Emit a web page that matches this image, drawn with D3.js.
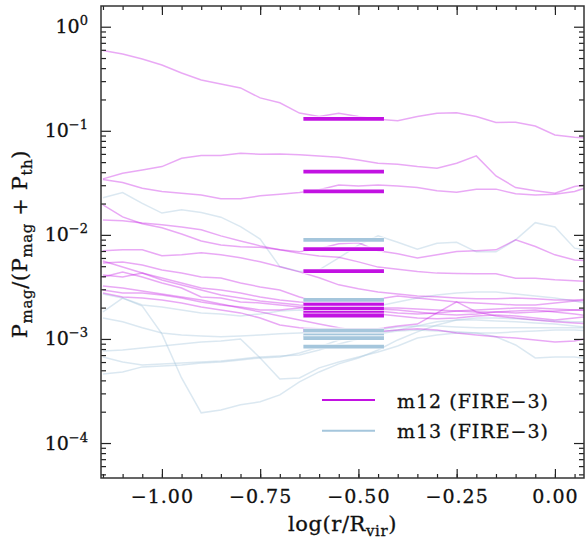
<!DOCTYPE html>
<html>
<head>
<meta charset="utf-8">
<script src="https://d3js.org/d3.v7.min.js"></script>
<style>
  body { margin: 0; background: #fff; }
  svg { display: block; font-family: "DejaVu Serif", serif; }
  .lbl { fill: #111; stroke: #111; stroke-width: 0.3px; }
</style>
</head>
<body>
<svg id="chart" width="585" height="540"></svg>
<script>
// radial bins, log(r/Rvir)
var radius = [-1.15, -1.10, -1.05, -1.00, -0.95, -0.90, -0.85, -0.80, -0.75, -0.70, -0.65, -0.60, -0.55,
              -0.50, -0.45, -0.40, -0.35, -0.30, -0.25, -0.20, -0.15, -0.10, -0.05, 0.00, 0.05, 0.10];

// m12 halos: Pmag/(Pmag+Pth) profiles
var m12_a = [0.59, 0.547, 0.49, 0.429, 0.359, 0.308, 0.282, 0.258, 0.207, 0.186, 0.148, 0.137, 0.1475, 0.137, 0.129, 0.125, 0.137, 0.1475, 0.149, 0.137, 0.120, 0.121, 0.111, 0.0913, 0.0867, 0.085];
var m12_b = [0.0345, 0.0391, 0.0421, 0.0453, 0.0545, 0.058, 0.0579, 0.0609, 0.0595, 0.060, 0.0587, 0.0574, 0.0557, 0.0525, 0.0488, 0.0477, 0.0453, 0.0437, 0.0488, 0.0574, 0.0368, 0.0285, 0.0266, 0.0251, 0.0291, 0.0313];
var m12_c = [0.0341, 0.0318, 0.0281, 0.0261, 0.0251, 0.0242, 0.0222, 0.0222, 0.0237, 0.0246, 0.0255, 0.0271, 0.0302, 0.0295, 0.0302, 0.0295, 0.0285, 0.0266, 0.0257, 0.0275, 0.0275, 0.0248, 0.0242, 0.0246, 0.0261, 0.0302];
var m12_d = [0.0194, 0.0149, 0.0128, 0.0117, 0.0102, 0.00875, 0.0080, 0.00767, 0.0076, 0.00718, 0.00664, 0.00628, 0.0061, 0.0055, 0.0049, 0.00467, 0.00444, 0.00429, 0.00425, 0.00422, 0.00422, 0.00384, 0.00384, 0.0037, 0.00362, 0.00355];
var m12_e = [0.0139, 0.0137, 0.0130, 0.0125, 0.0119, 0.0112, 0.00978, 0.00875, 0.00784, 0.00718, 0.00687, 0.00734, 0.0082, 0.00838, 0.00702, 0.00657, 0.0060, 0.00643, 0.00691, 0.00702, 0.00718, 0.00895, 0.00772, 0.00643, 0.00575, 0.00562];
var m12_f = [0.00702, 0.00718, 0.00718, 0.00629, 0.00643, 0.00672, 0.00643, 0.00602, 0.00551, 0.00493, 0.00441, 0.00387, 0.00331, 0.00303, 0.00283, 0.00271, 0.00259, 0.00254, 0.00248, 0.00243, 0.00243, 0.00248, 0.00243, 0.00237, 0.00237, 0.00243];
var m12_g = [0.00561, 0.00491, 0.0043, 0.00368, 0.0033, 0.00295, 0.00264, 0.00247, 0.00232, 0.00222, 0.00212, 0.00207, 0.00203, 0.00203, 0.00198, 0.00198, 0.00194, 0.0019, 0.00186, 0.00182, 0.00182, 0.00178, 0.00182, 0.00186, 0.0019, 0.0019];
var m12_h = [0.00536, 0.00548, 0.00513, 0.00459, 0.0043, 0.00394, 0.00385, 0.00345, 0.00316, 0.00295, 0.00253, 0.00227, 0.00207, 0.0019, 0.00174, 0.00166, 0.00159, 0.00156, 0.00159, 0.00166, 0.0017, 0.00166, 0.00159, 0.00152, 0.00159, 0.00166];
var m12_i = [0.00411, 0.00394, 0.0043, 0.00385, 0.00345, 0.00309, 0.00295, 0.00276, 0.00253, 0.00237, 0.00227, 0.00222, 0.00212, 0.00227, 0.00242, 0.00259, 0.00247, 0.00237, 0.00227, 0.00222, 0.00217, 0.00212, 0.00212, 0.00222, 0.00232, 0.00237];
var m12_j = [0.00394, 0.0044, 0.00394, 0.00345, 0.00309, 0.00253, 0.00247, 0.00227, 0.00222, 0.00212, 0.00203, 0.00207, 0.00212, 0.00203, 0.00194, 0.0019, 0.00182, 0.00174, 0.0017, 0.00174, 0.00182, 0.00186, 0.0019, 0.00182, 0.00174, 0.00163];
var m12_k = [0.00295, 0.00276, 0.00276, 0.00264, 0.00247, 0.00227, 0.00212, 0.00203, 0.0019, 0.0019, 0.00198, 0.00203, 0.00207, 0.00198, 0.00186, 0.00178, 0.00174, 0.00178, 0.00186, 0.0019, 0.00194, 0.00198, 0.00198, 0.00194, 0.0019, 0.0019];
var m12_l = [0.00276, 0.00253, 0.00247, 0.00237, 0.00222, 0.00203, 0.0019, 0.00178, 0.00159, 0.00136, 0.00128, 0.00125, 0.00125, 0.00122, 0.00125, 0.00133, 0.00139, 0.00178, 0.00227, 0.00182, 0.00166, 0.00159, 0.00152, 0.00146, 0.00142, 0.00139];
var m12_m = [0.00323, 0.00309, 0.00289, 0.0027, 0.00253, 0.00237, 0.00217, 0.00198, 0.00182, 0.00166, 0.00152, 0.00139, 0.00128, 0.00119, 0.00117, 0.00122, 0.00125, 0.00122, 0.00114, 0.00109, 0.00105, 0.00102, 0.000978, 0.000936, 0.000957, 0.00105];

// m13 halos
var m13_a = [0.0227, 0.0255, 0.0201, 0.0162, 0.0174, 0.0164, 0.0148, 0.0120, 0.0091, 0.00496, 0.00444, 0.00461, 0.0060, 0.00798, 0.00978, 0.0085, 0.0073, 0.0083, 0.0085, 0.00687, 0.00687, 0.00895, 0.0131, 0.0119, 0.00745, 0.0069];
var m13_b = [0.0027, 0.00247, 0.00212, 0.00203, 0.0019, 0.00178, 0.00174, 0.00166, 0.00174, 0.00186, 0.0019, 0.00182, 0.00178, 0.0019, 0.00207, 0.00227, 0.00247, 0.00264, 0.00276, 0.00283, 0.00283, 0.0027, 0.00259, 0.00247, 0.00232, 0.00212];
var m13_c = [0.00159, 0.00146, 0.00128, 0.00114, 0.00109, 0.00107, 0.00105, 0.00107, 0.00109, 0.00112, 0.00114, 0.00117, 0.00119, 0.00119, 0.00122, 0.0013, 0.00133, 0.00133, 0.0013, 0.00128, 0.00128, 0.00128, 0.00128, 0.00128, 0.00128, 0.00128];
var m13_d = [0.000767, 0.000784, 0.00082, 0.000857, 0.000895, 0.000935, 0.000957, 0.001, 0.000657, 0.000413, 0.000422, 0.000527, 0.000601, 0.000672, 0.00075, 0.000857, 0.00102, 0.00109, 0.00114, 0.00114, 0.00105, 0.000876, 0.000657, 0.000672, 0.000672, 0.000629];
var m13_e = [0.00182, 0.00247, 0.00207, 0.00112, 0.000422, 0.000195, 0.000208, 0.000233, 0.000249, 0.00029, 0.000387, 0.000482, 0.000576, 0.000657, 0.000784, 0.000978, 0.00117, 0.00136, 0.00152, 0.00159, 0.00159, 0.00156, 0.00152, 0.00149, 0.00146, 0.00146];
var m13_f = [0.000461, 0.000482, 0.000539, 0.000551, 0.000563, 0.000588, 0.000601, 0.000629, 0.000657, 0.000672, 0.000734, 0.000838, 0.000978, 0.00109, 0.00117, 0.00122, 0.00133, 0.00146, 0.00152, 0.00152, 0.00149, 0.00146, 0.00142, 0.00139, 0.00133, 0.00128];
var m13_g = [0.000672, 0.000601, 0.000563, 0.000576, 0.000588, 0.000601, 0.000615, 0.000643, 0.000672, 0.000687, 0.000702, 0.000784, 0.000895, 0.001, 0.00112, 0.00119, 0.00122, 0.00119, 0.00117, 0.00114, 0.00114, 0.00117, 0.00119, 0.00122, 0.00122, 0.00119];

var m12Profiles = [m12_a, m12_b, m12_c, m12_d, m12_e, m12_f, m12_g, m12_h, m12_i, m12_j, m12_k, m12_l, m12_m];
var m13Profiles = [m13_a, m13_b, m13_c, m13_d, m13_e, m13_f, m13_g];

// medians over the inner-CGM window
var medianWindow = [-0.64, -0.435];
var m12Medians = [0.130, 0.0405, 0.0262, 0.0073, 0.00449, 0.00217, 0.00195, 0.00178, 0.00168, 0.00121];
var m13Medians = [0.00895, 0.00237, 0.0012, 0.00108, 0.00102, 0.000844];

var xTicks = [-1.00, -0.75, -0.50, -0.25, 0.00];
var xMinorTicks = d3.range(-23, 2).map(function(k) { return k * 0.05; });
var yDecades = [0, -1, -2, -3, -4];

var colM12 = '#c212e2';
var colM13 = '#a5c6dc';

var svg = d3.select('#chart');
var padL = 101, padR = 584, padT = 6, padB = 478;

var x = d3.scaleLinear().domain([-1.155, 0.074]).range([padL, padR]);
var y = d3.scaleLog().domain([Math.pow(10, -4.336), Math.pow(10, 0.199)]).range([padB, padT]);

var yMinor = [];
for (var e = -5; e <= 0; e++) {
	for (var m = 2; m <= 9; m++) {
		var v = m * Math.pow(10, e);
		if (v > y.domain()[0] && v < y.domain()[1]) yMinor.push(v);
	}
}
var yMajor = yDecades.map(function(d) { return Math.pow(10, d); });

svg.append('clipPath').attr('id', 'plotclip')
	.append('rect').attr('x', padL).attr('y', padT)
	.attr('width', padR - padL).attr('height', padB - padT);

var plot = svg.append('g').attr('clip-path', 'url(#plotclip)');

var line = d3.line()
	.x(function(d, i) { return x(radius[i]); })
	.y(function(d) { return y(d); });

// faint individual profiles
plot.selectAll('path.m13').data(m13Profiles).enter().append('path')
	.attr('class', 'm13')
	.attr('d', line)
	.style('fill', 'none')
	.style('stroke', colM13)
	.style('stroke-opacity', 0.4)
	.style('stroke-width', 1.5);

plot.selectAll('path.m12').data(m12Profiles).enter().append('path')
	.attr('class', 'm12')
	.attr('d', line)
	.style('fill', 'none')
	.style('stroke', colM12)
	.style('stroke-opacity', 0.36)
	.style('stroke-width', 1.5);

// median bars, each with a thin white edge
var drawBars = function(vals, col) {
	var g = plot.append('g');
	vals.forEach(function(v) {
		g.append('line')
			.attr('x1', x(medianWindow[0])).attr('x2', x(medianWindow[1]))
			.attr('y1', y(v)).attr('y2', y(v))
			.style('stroke', '#fff').style('stroke-opacity', 0.85).style('stroke-width', 5.5);
		g.append('line')
			.attr('x1', x(medianWindow[0])).attr('x2', x(medianWindow[1]))
			.attr('y1', y(v)).attr('y2', y(v))
			.style('stroke', col).style('stroke-width', 3.8);
	});
};
drawBars(m12Medians, colM12);
drawBars(m13Medians, colM13);

// axes, ticks pointing inwards on all four sides
var styleAxis = function(g) {
	g.select('.domain').remove();
	g.selectAll('.tick line').style('stroke', '#222').style('stroke-width', 1.2);
};
var bareAxis = function(g) {
	styleAxis(g);
	g.selectAll('.tick text').remove();
};

svg.append('g').attr('transform', 'translate(0,' + padB + ')')
	.call(d3.axisBottom(x).tickValues(xMinorTicks).tickSize(-4))
	.call(bareAxis);
svg.append('g').attr('transform', 'translate(0,' + padT + ')')
	.call(d3.axisTop(x).tickValues(xMinorTicks).tickSize(-4))
	.call(bareAxis);
svg.append('g').attr('transform', 'translate(0,' + padT + ')')
	.call(d3.axisTop(x).tickValues(xTicks).tickSize(-9))
	.call(bareAxis);

var xAxis = svg.append('g').attr('transform', 'translate(0,' + padB + ')')
	.call(d3.axisBottom(x).tickValues(xTicks).tickSize(-9).tickPadding(12)
		.tickFormat(function(d) { return d3.format('.2f')(d).replace('-', '\u2212'); }))
	.call(styleAxis);
xAxis.selectAll('text')
	.attr('class', 'lbl')
	.style('font-family', '"DejaVu Serif", serif')
	.style('font-size', '19px')
	.style('letter-spacing', '1px');

svg.append('g').attr('transform', 'translate(' + padL + ',0)')
	.call(d3.axisLeft(y).tickValues(yMinor).tickSize(-5))
	.call(bareAxis);
svg.append('g').attr('transform', 'translate(' + padL + ',0)')
	.call(d3.axisLeft(y).tickValues(yMajor).tickSize(-10))
	.call(bareAxis);
svg.append('g').attr('transform', 'translate(' + padR + ',0)')
	.call(d3.axisRight(y).tickValues(yMinor).tickSize(-5))
	.call(bareAxis);
svg.append('g').attr('transform', 'translate(' + padR + ',0)')
	.call(d3.axisRight(y).tickValues(yMajor).tickSize(-10))
	.call(bareAxis);

// frame
svg.append('rect')
	.attr('x', padL).attr('y', padT)
	.attr('width', padR - padL).attr('height', padB - padT)
	.style('fill', 'none').style('stroke', '#333').style('stroke-width', 1.5);

// y tick labels as 10^n
yDecades.forEach(function(p) {
	var t = svg.append('text')
		.attr('class', 'lbl')
		.attr('x', 88).attr('y', y(Math.pow(10, p)) + 6.5)
		.attr('text-anchor', 'end')
		.style('font-size', '19px');
	t.append('tspan').text('10');
	t.append('tspan').attr('dy', -8).style('font-size', '13px')
		.text(p === 0 ? '0' : '\u2212' + (-p));
});

// text with subscripts: each subscript is lowered, the next run raised back
var richText = function(t, parts, size, subSize) {
	var back = 0;
	parts.forEach(function(p) {
		var isSub = p[1] === 'sub';
		t.append('tspan')
			.attr('dy', (isSub ? 5 : 0) - back)
			.style('font-size', (isSub ? subSize : size) + 'px')
			.text(p[0]);
		back = isSub ? 5 : 0;
	});
};

var xl = svg.append('text')
	.attr('class', 'lbl')
	.attr('x', (padL + padR) / 2).attr('y', 531)
	.attr('text-anchor', 'middle')
	.style('font-size', '21px').style('letter-spacing', '0.6px');
richText(xl, [['log(r/R', null], ['vir', 'sub'], [')', null]], 21, 15);

var yl = svg.append('text')
	.attr('class', 'lbl')
	.attr('transform', 'translate(27,244) rotate(-90)')
	.attr('text-anchor', 'middle')
	.style('font-size', '21px').style('letter-spacing', '0.6px');
richText(yl, [['P', null], ['mag', 'sub'], ['/(P', null], ['mag', 'sub'], [' + P', null], ['th', 'sub'], [')', null]], 21, 15);

// legend
var legendItems = [
	{ label: 'm12 (FIRE\u22123)', color: colM12 },
	{ label: 'm13 (FIRE\u22123)', color: colM13 }
];
legendItems.forEach(function(item, i) {
	var ly = 400 + i * 30.7;
	svg.append('line')
		.attr('x1', 322).attr('x2', 375).attr('y1', ly).attr('y2', ly)
		.style('stroke', item.color).style('stroke-width', 2);
	svg.append('text')
		.attr('class', 'lbl')
		.attr('x', 397).attr('y', ly + 7.5)
		.style('font-size', '19px').style('letter-spacing', '1px')
		.text(item.label);
});
</script>
</body>
</html>
